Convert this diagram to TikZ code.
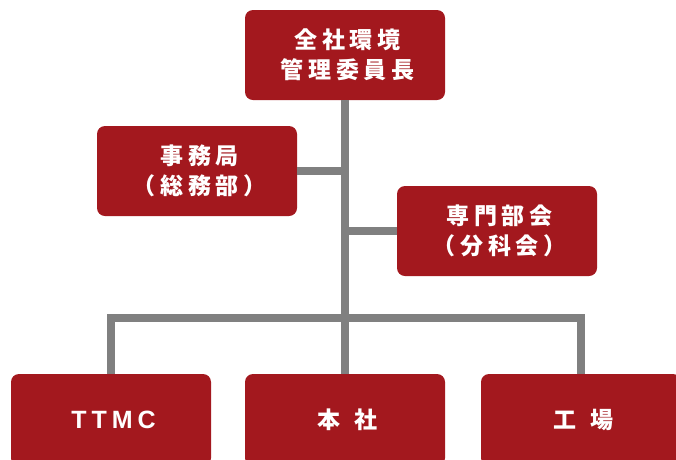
\documentclass[tikz,border=0pt]{standalone}
\usepackage{fontspec}
\newfontfamily\jp[LetterSpace=20]{Noto Sans CJK JP}
\newfontfamily\lat[LetterSpace=20]{Liberation Sans}
\definecolor{boxred}{HTML}{A3181E}
\definecolor{linegray}{HTML}{808080}
\begin{document}
\begin{tikzpicture}[x=1pt,y=1pt,
  box/.style={fill=boxred, rounded corners=8pt, minimum width=200pt, minimum height=90pt,
    text=white, font=\jp\bfseries\fontsize{23}{30}\selectfont, align=center, inner sep=0pt},
  lowbox/.style={box, minimum height=92pt},
  conn/.style={draw=linegray, line width=8pt, line join=miter}]
\useasboundingbox (0,0) rectangle (676,-459);
\clip (0,0) rectangle (676,-459);
\node[box] (top) at (345,-55) {\hspace{5pt}全社環境\\\hspace{5pt}管理委員長};
\node[box] (jimu) at (197,-171) {\hspace{5pt}事務局\\\hspace{5pt}（総務部）};
\node[box] (senmon) at (497,-231) {\hspace{5pt}専門部会\\\hspace{5pt}（分科会）};
\node[lowbox] (ttmc) at (111,-420) {\hspace{5pt}{\lat\bfseries\fontsize{25}{28}\selectfont TTMC}};
\node[lowbox] (honsha) at (345,-420) {\hspace{5pt}本\hspace{14pt}社};
\node[lowbox] (kojo) at (581,-420) {\hspace{5pt}工\hspace{14pt}場};
\coordinate (j) at (345,-318);
\draw[conn] (top.south) -- (j);
\draw[conn] (jimu.east) -- (jimu.east -| top.south);
\draw[conn] (senmon.west) -- (senmon.west -| top.south);
\draw[conn] (ttmc.north) -- (ttmc.north |- j) -- (kojo.north |- j) -- (kojo.north);
\draw[conn] (j) -- (honsha.north);
\end{tikzpicture}
\end{document}
